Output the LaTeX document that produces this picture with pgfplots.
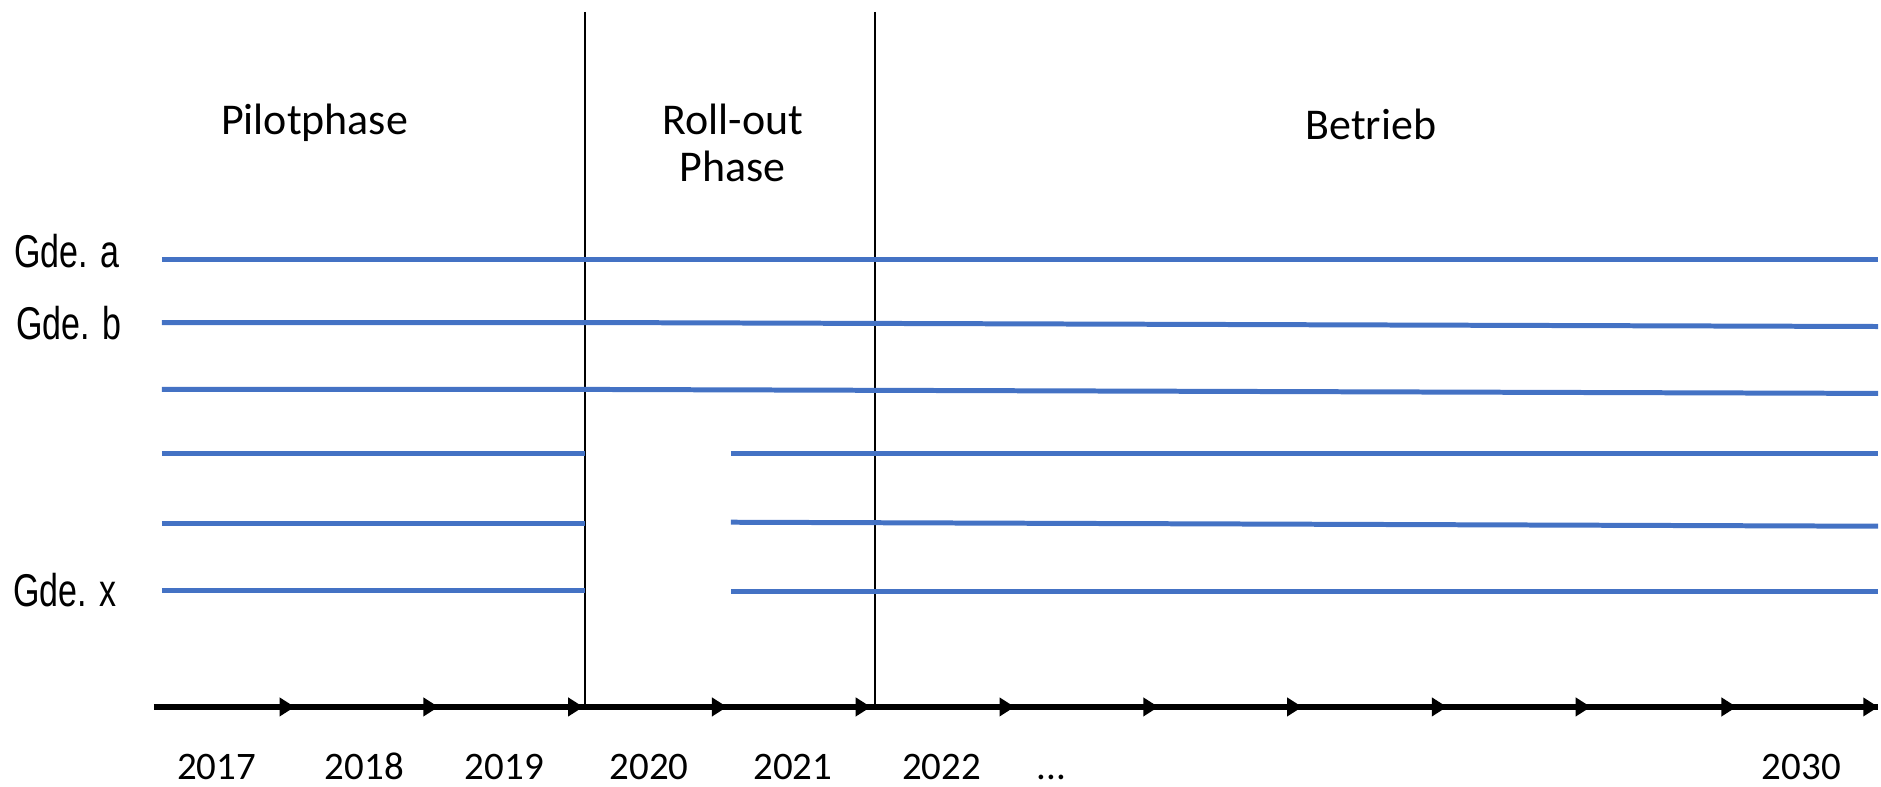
\documentclass[border=0pt]{standalone}
\usepackage{fontspec}
\setmainfont{Carlito}[Numbers=Lining]
\newfontfamily\arialn[FakeStretch=0.74]{Liberation Sans}
\usepackage{pgfplots}
\pgfplotsset{compat=1.18}
\definecolor{lineblue}{HTML}{4472C4}
\pgfdeclareplotmark{rarrow}{%
  \pgfpathmoveto{\pgfpoint{0pt}{0pt}}%
  \pgfpathlineto{\pgfpoint{-7.5pt}{4.8pt}}%
  \pgfpathlineto{\pgfpoint{-7.5pt}{-4.8pt}}%
  \pgfpathclose
  \pgfusepath{fill}}
\begin{document}
\begin{tikzpicture}
\begin{axis}[
  width=940.5pt, height=394pt, scale only axis,
  xmin=0, xmax=1881, ymin=0, ymax=788,
  hide axis, clip=false,
]
\path (rel axis cs:0,0) rectangle (rel axis cs:1,1);
% phase separators
\addplot[black, line width=0.9pt] coordinates {(586,776) (586,80)};
\addplot[black, line width=0.9pt] coordinates {(876,776) (876,80)};
% timeline
\addplot[black, line width=2.8pt] coordinates {(154,80) (1881,80)};
\addplot[only marks, mark=rarrow, mark options={fill=black}]
  coordinates {(295,80) (439,80) (584,80) (728,80) (872,80) (1016,80) (1160,80) (1304,80) (1449,80) (1593,80) (1739,80) (1881,80)};
% municipalities
\addplot[lineblue, line width=2.5pt] coordinates {(162,528) (1881,528)};
\addplot[lineblue, line width=2.5pt] coordinates {(162,465) (586,465) (1881,461)};
\addplot[lineblue, line width=2.5pt] coordinates {(162,398) (586,398) (1881,394)};
\addplot[lineblue, line width=2.5pt] coordinates {(162,334) (586,334)};
\addplot[lineblue, line width=2.5pt] coordinates {(732,334) (1881,334)};
\addplot[lineblue, line width=2.5pt] coordinates {(162,264) (586,264)};
\addplot[lineblue, line width=2.5pt] coordinates {(732,265) (1881,261)};
\addplot[lineblue, line width=2.5pt] coordinates {(162,197) (586,197)};
\addplot[lineblue, line width=2.5pt] coordinates {(732,196) (1881,196)};
% labels
\node[anchor=base west, inner sep=0pt, font=\arialn\fontsize{23pt}{26pt}\selectfont] at (axis cs:14,520) {Gde. a};
\node[anchor=base west, inner sep=0pt, font=\arialn\fontsize{23pt}{26pt}\selectfont] at (axis cs:16,448) {Gde. b};
\node[anchor=base west, inner sep=0pt, font=\arialn\fontsize{23pt}{26pt}\selectfont] at (axis cs:13,181) {Gde. x};
\node[anchor=base, inner sep=0pt, font=\fontsize{22pt}{26pt}\selectfont] at (axis cs:315,653) {Pilotphase};
\node[anchor=base, inner sep=0pt, font=\fontsize{22pt}{26pt}\selectfont] at (axis cs:734,653) {Roll-out};
\node[anchor=base, inner sep=0pt, font=\fontsize{22pt}{26pt}\selectfont] at (axis cs:734,606) {Phase};
\node[anchor=base, inner sep=0pt, font=\fontsize{22pt}{26pt}\selectfont] at (axis cs:1373,648) {Betrieb};
\foreach \x/\t in {217/2017, 365/2018, 505/2019, 650/2020, 794/2021, 943/2022, 1804/2030} {
  \edef\tmp{\noexpand\node[anchor=base, inner sep=0pt, font=\noexpand\fontsize{19.5pt}{22pt}\noexpand\selectfont] at (axis cs:\x,7) {\t};}
  \tmp
}
\node[anchor=base, inner sep=0pt, font=\fontsize{19.5pt}{22pt}\selectfont] at (axis cs:1053,7) {...};
\end{axis}
\end{tikzpicture}
\end{document}
